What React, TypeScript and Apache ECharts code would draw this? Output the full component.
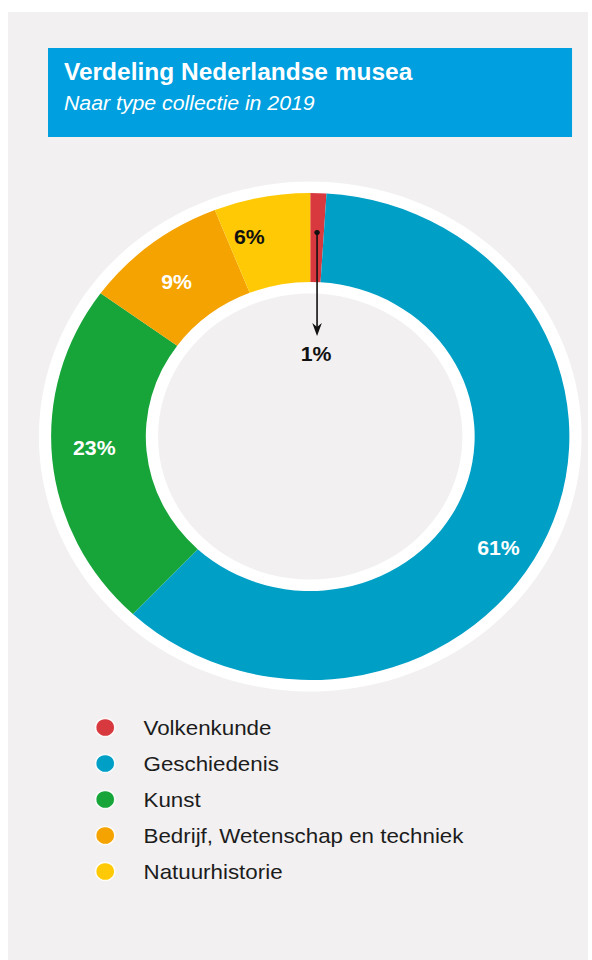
import React, { useEffect, useRef } from "react";
import * as echarts from "echarts";

// ---- data ----
const titleText = "Verdeling Nederlandse musea";
const subtitleText = "Naar type collectie in 2019";
const categories = [
  "Volkenkunde",
  "Geschiedenis",
  "Kunst",
  "Bedrijf, Wetenschap en techniek",
  "Natuurhistorie",
];
const shares = [1, 61, 23, 9, 6];

// ---- styles ----
const sliceColors = ["#d8393f", "#009fc6", "#17a53a", "#f5a300", "#ffca05"];
const labelColors = ["#111111", "#ffffff", "#ffffff", "#ffffff", "#111111"];
const labelOffsets = [
  [-0.9, 119.4],
  [-8.5, 31.5],
  [-1.8, -8.2],
  [-1.8, 4.7],
  [-19.3, -1],
];

const FONT = "'Liberation Sans', Arial, Helvetica, sans-serif";
const STRETCH = 580 / 545;
const CX = 284;
const CY = 424.5;
const R0 = 154.5;
const R1 = 243.5;

export default function App() {
  const ref = useRef<HTMLDivElement>(null);

  useEffect(() => {
    if (!ref.current) return;
    const chart = echarts.init(ref.current, undefined, { renderer: "svg" });

    const total = shares.reduce((a, b) => a + b, 0);
    const midFrac = (shares[0] / 2) / total;
    const ang = midFrac * Math.PI * 2;
    const rDot = 204;
    const dotX = CX + rDot * Math.sin(ang);
    const dotY = CY - rDot * Math.cos(ang);
    const tipY = dotY + 103.5;

    chart.setOption({
      animation: false,
      backgroundColor: "#f2f0f1",
      title: {
        text: titleText,
        subtext: subtitleText,
        left: 52.6,
        top: 48,
        padding: 0,
        itemGap: 10,
        textStyle: {
          color: "#ffffff",
          fontSize: 23,
          fontWeight: "bold",
          fontFamily: FONT,
        },
        subtextStyle: {
          color: "#ffffff",
          fontSize: 20,
          fontStyle: "italic",
          fontFamily: FONT,
        },
      },
      legend: {
        orient: "vertical",
        left: 81.6,
        top: 705,
        padding: 0,
        icon: "circle",
        itemWidth: 18,
        itemHeight: 18,
        itemGap: 15,
        selectedMode: false,
        data: categories,
        itemStyle: { borderColor: "rgba(255,255,255,0.9)", borderWidth: 1.5 },
        textStyle: {
          fontSize: 21,
          lineHeight: 18,
          color: "#1c1c1c",
          fontFamily: FONT,
          padding: [0, 0, 0, 22],
        },
      },
      graphic: [
        {
          type: "rect",
          z: 0,
          shape: { x: 37.6, y: 36, width: 492.4, height: 89 },
          style: { fill: "#009fe0" },
        },
        {
          type: "ring",
          z: 0,
          silent: true,
          shape: { cx: CX, cy: CY, r: 255, r0: 143 },
          style: { fill: "#ffffff" },
        },
        {
          type: "line",
          z: 100,
          shape: { x1: dotX, y1: dotY, x2: dotX, y2: tipY - 8 },
          style: { stroke: "#111111", lineWidth: 1.5 },
        },
        {
          type: "polygon",
          z: 100,
          shape: {
            points: [
              [dotX - 4.5, tipY - 13],
              [dotX, tipY - 9],
              [dotX + 4.5, tipY - 13],
              [dotX, tipY],
            ],
          },
          style: { fill: "#111111" },
        },
        {
          type: "circle",
          z: 100,
          shape: { cx: dotX, cy: dotY, r: 2.6 },
          style: { fill: "#111111" },
        },
      ],
      series: [
        {
          type: "pie",
          z: 5,
          center: [CX, CY],
          radius: [R0, R1],
          startAngle: 90,
          clockwise: true,
          avoidLabelOverlap: false,
          silent: true,
          emphasis: { disabled: true },
          labelLine: { show: false },
          label: {
            show: true,
            position: "inside",
            formatter: "{c}%",
            fontSize: 20,
            fontWeight: "bold",
            fontFamily: FONT,
          },
          data: categories.map((name, i) => ({
            name,
            value: shares[i],
            itemStyle: { color: sliceColors[i] },
            label: { color: labelColors[i], offset: labelOffsets[i] },
          })),
        },
      ],
    });

    return () => chart.dispose();
  }, []);

  return (
    <div
      style={{
        position: "absolute",
        left: 8,
        top: 12,
        width: 580,
        height: 948,
        overflow: "hidden",
        background: "#f2f0f1",
      }}
    >
      <div
        ref={ref}
        style={{
          width: 545,
          height: 948,
          transform: `scaleX(${STRETCH})`,
          transformOrigin: "0 0",
        }}
      />
    </div>
  );
}
